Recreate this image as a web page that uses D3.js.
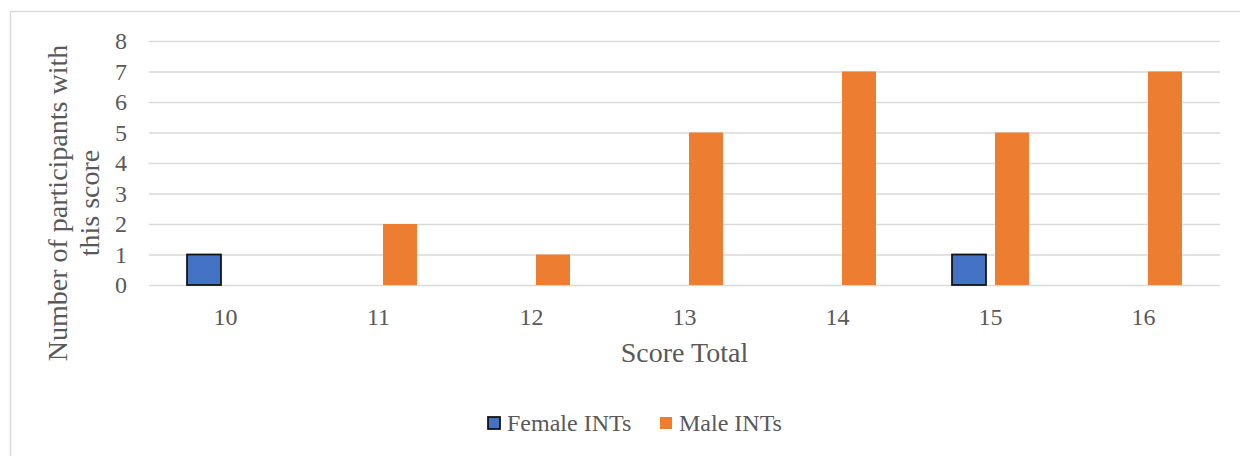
<!DOCTYPE html>
<html>
<head>
<meta charset="utf-8">
<script src="https://cdn.jsdelivr.net/npm/d3@7"></script>
<style>
  body { margin: 0; background: #fff; }
  text { font-family: "Liberation Serif", serif; fill: #595959; }
</style>
</head>
<body>
<div id="chart"></div>
<script>
// data
let categories = ["10", "11", "12", "13", "14", "15", "16"];
let seriesNames = ["Female INTs", "Male INTs"];
let femaleValues = [1, 0, 0, 0, 0, 1, 0];
let maleValues = [0, 2, 1, 5, 7, 5, 7];
let yTicks = [0, 1, 2, 3, 4, 5, 6, 7, 8];

let width = 1240;
let height = 456;
let colors = d3.scaleOrdinal()
  .domain(seriesNames)
  .range(["#4472C4", "#ED7D31"]);

let svg = d3.select('#chart').append('svg')
  .attr('width', width)
  .attr('height', height);

// outer chart border
svg.append('rect')
  .attr('x', 10.5).attr('y', 11.5)
  .attr('width', 1250).attr('height', 470)
  .attr('fill', 'none')
  .attr('stroke', '#D9D9D9')
  .attr('stroke-width', 1.5);

let plot = { left: 149, right: 1220, top: 41, bottom: 285 };

let x0 = d3.scaleBand()
  .domain(categories)
  .range([plot.left, plot.right])
  .padding(0);

let x1 = d3.scaleBand()
  .domain(seriesNames)
  .range([0, x0.bandwidth()])
  .paddingInner(0.21)
  .paddingOuter(0.884);

let y = d3.scaleLinear()
  .domain([0, 8])
  .range([plot.bottom, plot.top]);

// gridlines
let yAxis = d3.axisLeft(y)
  .tickValues(yTicks)
  .tickSize(-(plot.right - plot.left))
  .tickPadding(22)
  .tickFormat(d3.format('d'));

let gy = svg.append('g')
  .attr('transform', 'translate(' + plot.left + ',0)')
  .call(yAxis);
gy.select('.domain').remove();
gy.selectAll('.tick line')
  .attr('stroke', '#D9D9D9')
  .attr('stroke-width', 1.5);
gy.selectAll('.tick text')
  .style('font-size', '24px')
  .attr('fill', '#595959');

// x axis labels
let xAxis = d3.axisBottom(x0).tickSize(0).tickPadding(23);
let gx = svg.append('g')
  .attr('transform', 'translate(0,' + plot.bottom + ')')
  .call(xAxis);
gx.select('.domain').remove();
gx.selectAll('.tick text')
  .style('font-size', '24px')
  .attr('fill', '#595959');

// bars
let rows = categories.map(function(c, i) {
  return { cat: c, values: [
    { key: seriesNames[0], v: femaleValues[i] },
    { key: seriesNames[1], v: maleValues[i] }
  ]};
});

let groups = svg.selectAll('.grp')
  .data(rows)
  .enter()
  .append('g').classed('grp', true)
  .attr('transform', function(d) { return 'translate(' + x0(d.cat) + ',0)'; });

groups.selectAll('rect')
  .data(function(d) { return d.values.filter(function(e) { return e.v > 0; }); })
  .enter()
  .append('rect')
  .attr('x', function(d) { return x1(d.key); })
  .attr('y', function(d) { return y(d.v); })
  .attr('width', x1.bandwidth())
  .attr('height', function(d) { return y(0) - y(d.v); })
  .attr('fill', function(d) { return colors(d.key); })
  .attr('stroke', function(d) { return d.key === seriesNames[0] ? '#111' : 'none'; })
  .attr('stroke-width', 1.75);

// axis titles
svg.append('text')
  .attr('x', (plot.left + plot.right) / 2)
  .attr('y', 362)
  .attr('text-anchor', 'middle')
  .style('font-size', '28px')
  .text('Score Total');

let yTitle = svg.append('text')
  .attr('transform', 'translate(67,203) rotate(-90)')
  .attr('text-anchor', 'middle')
  .style('font-size', '28px');
yTitle.append('tspan').attr('x', 0).attr('y', 0).text('Number of participants with');
yTitle.append('tspan').attr('x', 0).attr('y', 32).text('this score');

// legend
let legendX = [488, 660];
let legend = svg.selectAll('.leg')
  .data(seriesNames)
  .enter()
  .append('g').classed('leg', true)
  .attr('transform', function(d, i) { return 'translate(' + legendX[i] + ',417)'; });

legend.append('rect')
  .attr('width', 12).attr('height', 12)
  .attr('fill', function(d) { return colors(d); })
  .attr('stroke', function(d, i) { return i === 0 ? '#111' : 'none'; })
  .attr('stroke-width', 1.75);

legend.append('text')
  .attr('x', function(d, i) { return i === 0 ? 19 : 19; })
  .attr('y', 14)
  .style('font-size', '24px')
  .text(function(d) { return d; });
</script>
</body>
</html>
